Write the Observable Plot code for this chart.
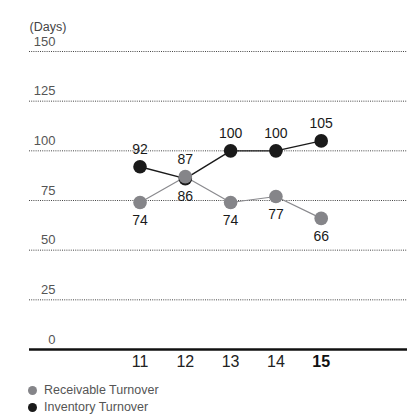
<!DOCTYPE html>
<html><head><meta charset="utf-8">
<script src="https://cdn.jsdelivr.net/npm/d3@7"></script>
<script src="https://cdn.jsdelivr.net/npm/@observablehq/plot@0.6"></script>
<style>
body{margin:0;background:#fff;font-family:"Liberation Sans",Arial,Helvetica,sans-serif;}
#legend{margin-left:28px;font-size:12.5px;color:#555;line-height:17px;margin-top:4px}
#legend .sw{display:inline-block;width:9px;height:9px;border-radius:50%;margin-right:7px;vertical-align:-1px}
</style></head>
<body>
<div id="chart"></div>
<div id="legend"></div>
<script>
const years = [11, 12, 13, 14, 15];
const receivable = [74, 87, 74, 77, 66];
const inventory = [92, 86, 100, 100, 105];
const receivableLabelPos = ["below", "above", "below", "below", "below"];
const inventoryLabelPos = ["above", "below", "above", "above", "above"];
const yTicks = [0, 25, 50, 75, 100, 125, 150];
const seriesNames = ["Receivable Turnover", "Inventory Turnover"];
const seriesColors = ["#858589", "#1a1a1a"];

const recv = years.map((y, i) => ({year: y, value: receivable[i], pos: receivableLabelPos[i]}));
const inv = years.map((y, i) => ({year: y, value: inventory[i], pos: inventoryLabelPos[i]}));
const allLabels = [...inv, ...recv];
const lastYear = years[years.length - 1];

const plot = Plot.plot({
  width: 407,
  height: 378,
  marginLeft: 29,
  marginRight: 0,
  marginTop: 51,
  marginBottom: 29,
  style: {fontFamily: '"Liberation Sans",Arial,Helvetica,sans-serif', background: "#fff"},
  x: {domain: [8.56, 16.905], axis: null},
  y: {domain: [0, 150], axis: null},
  marks: [
    Plot.ruleY(yTicks.filter(d => d > 0), {stroke: "#444", strokeWidth: 1, strokeDasharray: "1,1.2"}),
    Plot.ruleY([0], {stroke: "#111", strokeWidth: 2.5}),
    Plot.axisY({ticks: yTicks, tickSize: 0, tickPadding: 0, dx: 26, dy: -10, fontSize: 13, color: "#555", label: null, tickFormat: d => d}),
    Plot.text(["(Days)"], {frameAnchor: "top-left", dy: -29, textAnchor: "start", fontSize: 12.5, fill: "#444"}),
    Plot.line(inv, {x: "year", y: "value", stroke: seriesColors[1], strokeWidth: 1.4}),
    Plot.line(recv, {x: "year", y: "value", stroke: "#8a8a8e", strokeWidth: 1.2}),
    Plot.dot(inv, {x: "year", y: "value", r: 6.8, fill: seriesColors[1]}),
    Plot.dot(recv, {x: "year", y: "value", r: 6.8, fill: seriesColors[0]}),
    Plot.text(allLabels.filter(d => d.pos === "above"), {x: "year", y: "value", text: d => d.value, dy: -17, fontSize: 14, fill: "#1a1a1a"}),
    Plot.text(allLabels.filter(d => d.pos === "below"), {x: "year", y: "value", text: d => d.value, dy: 18, fontSize: 14, fill: "#1a1a1a"}),
    Plot.text(years.filter(y => y !== lastYear), {x: d => d, frameAnchor: "bottom", dy: 17, text: d => String(d), fontSize: 16, fill: "#222"}),
    Plot.text([lastYear], {x: d => d, frameAnchor: "bottom", dy: 17, text: d => String(d), fontSize: 16, fontWeight: "bold", fill: "#111"})
  ]
});
document.getElementById("chart").appendChild(plot);

const legend = document.getElementById("legend");
seriesNames.forEach((name, i) => {
  const row = document.createElement("div");
  const sw = document.createElement("span");
  sw.className = "sw";
  sw.style.background = seriesColors[i];
  row.appendChild(sw);
  row.appendChild(document.createTextNode(name));
  legend.appendChild(row);
});
</script>
</body></html>
